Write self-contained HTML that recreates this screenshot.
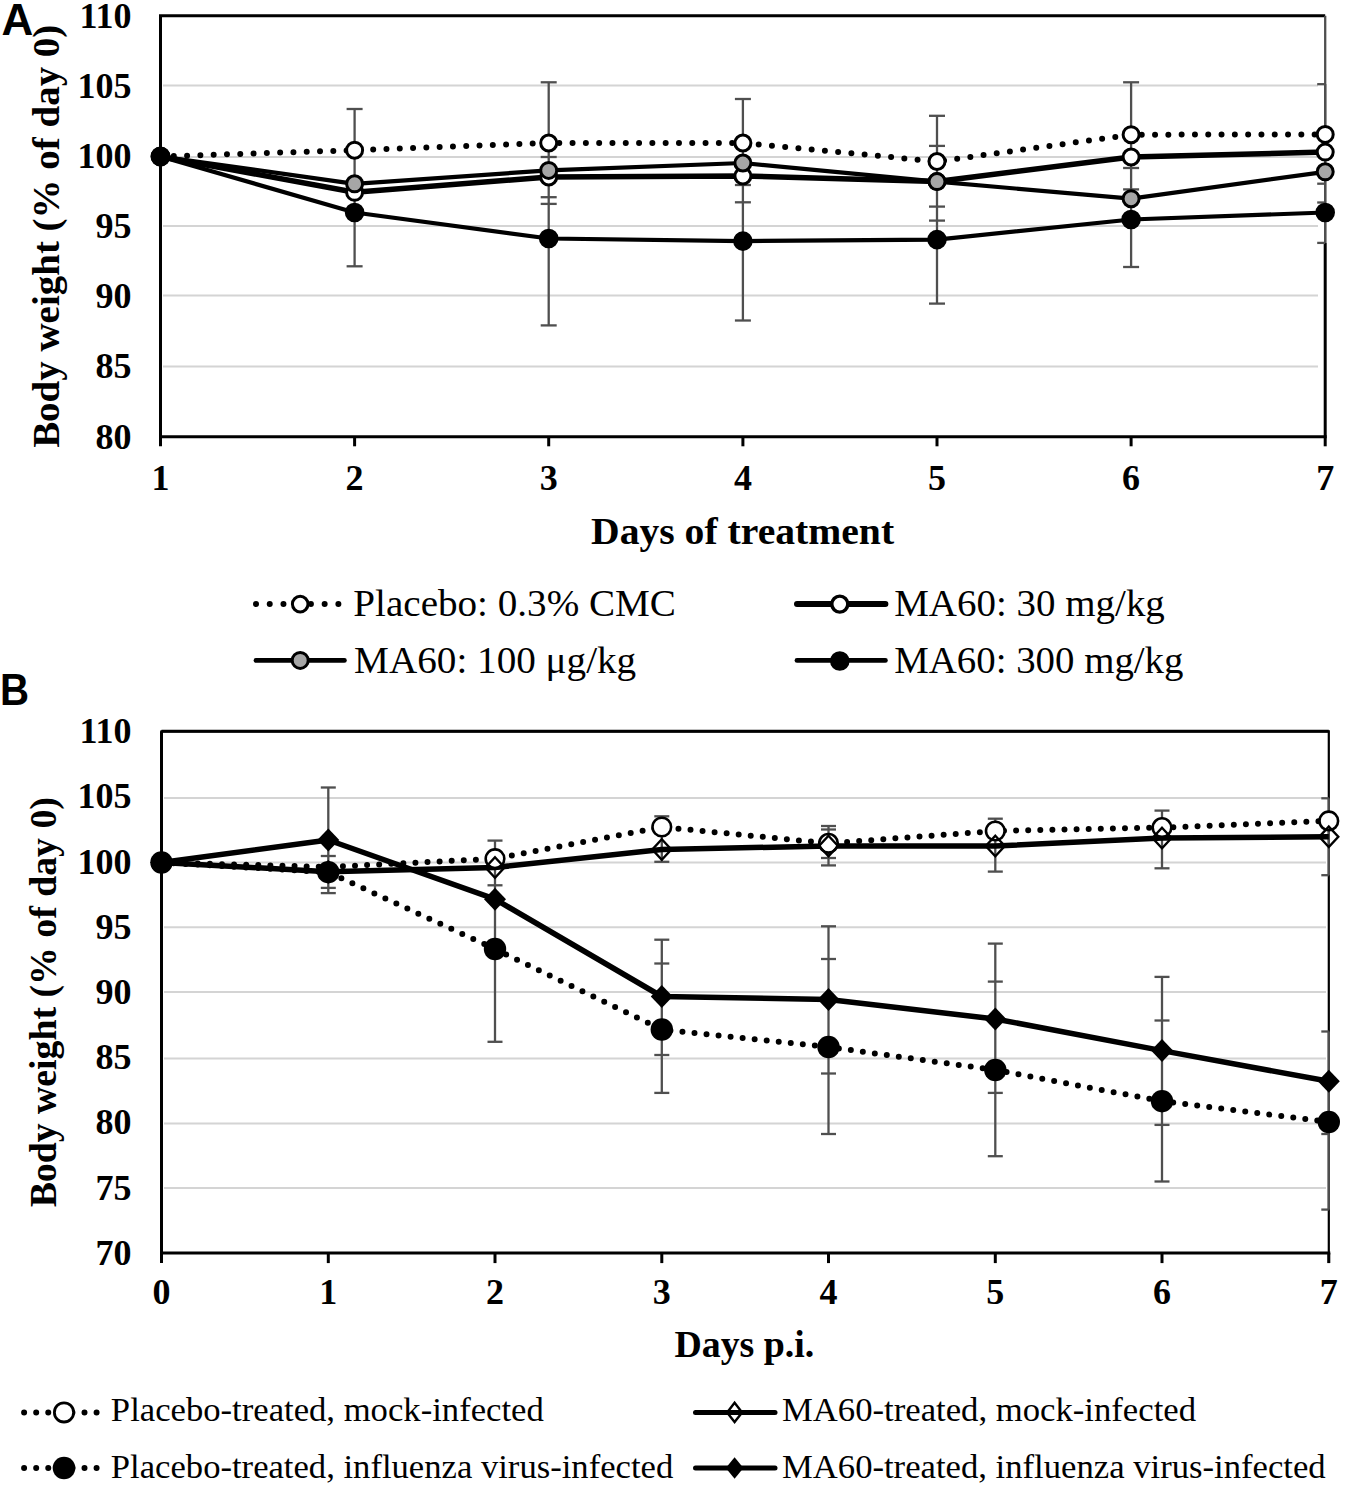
<!DOCTYPE html>
<html><head><meta charset="utf-8"><title>Body weight charts</title>
<style>html,body{margin:0;padding:0;background:#fff;}body{width:1345px;height:1488px;position:relative;overflow:hidden;font-family:"Liberation Serif",serif;}</style>
</head><body>
<svg width="1345" height="1488" viewBox="0 0 1345 1488" style="position:absolute;left:0;top:0"><line x1="163" y1="85.4" x2="1318" y2="85.4" stroke="#d4d4d4" stroke-width="2"/><line x1="163" y1="157.0" x2="1318" y2="157.0" stroke="#d4d4d4" stroke-width="2"/><line x1="163" y1="226.1" x2="1318" y2="226.1" stroke="#d4d4d4" stroke-width="2"/><line x1="163" y1="295.4" x2="1318" y2="295.4" stroke="#d4d4d4" stroke-width="2"/><line x1="163" y1="366.5" x2="1318" y2="366.5" stroke="#d4d4d4" stroke-width="2"/><path d="M160.5,446.3 L160.5,15.8 L1325.2,15.8" fill="none" stroke="#000" stroke-width="3"/><line x1="159.0" y1="436.8" x2="1326.7" y2="436.8" stroke="#000" stroke-width="3"/><line x1="354.6" y1="436.8" x2="354.6" y2="446.3" stroke="#000" stroke-width="3"/><line x1="548.7" y1="436.8" x2="548.7" y2="446.3" stroke="#000" stroke-width="3"/><line x1="742.9" y1="436.8" x2="742.9" y2="446.3" stroke="#000" stroke-width="3"/><line x1="937.0" y1="436.8" x2="937.0" y2="446.3" stroke="#000" stroke-width="3"/><line x1="1131.1" y1="436.8" x2="1131.1" y2="446.3" stroke="#000" stroke-width="3"/><line x1="1325.2" y1="436.8" x2="1325.2" y2="446.3" stroke="#000" stroke-width="3"/><line x1="1325.2" y1="15.8" x2="1325.2" y2="243" stroke="#4f4f4f" stroke-width="2.3"/><line x1="1325.2" y1="243" x2="1325.2" y2="436.8" stroke="#000" stroke-width="3"/><line x1="354.6" y1="109.0" x2="354.6" y2="266.3" stroke="#4f4f4f" stroke-width="2.3"/><line x1="346.6" y1="109.0" x2="362.6" y2="109.0" stroke="#4f4f4f" stroke-width="2.3"/><line x1="346.6" y1="266.3" x2="362.6" y2="266.3" stroke="#4f4f4f" stroke-width="2.3"/><line x1="548.7" y1="82.3" x2="548.7" y2="325.4" stroke="#4f4f4f" stroke-width="2.3"/><line x1="540.7" y1="82.3" x2="556.7" y2="82.3" stroke="#4f4f4f" stroke-width="2.3"/><line x1="540.7" y1="157.0" x2="556.7" y2="157.0" stroke="#4f4f4f" stroke-width="2.3"/><line x1="540.7" y1="197.2" x2="556.7" y2="197.2" stroke="#4f4f4f" stroke-width="2.3"/><line x1="540.7" y1="203.9" x2="556.7" y2="203.9" stroke="#4f4f4f" stroke-width="2.3"/><line x1="540.7" y1="325.4" x2="556.7" y2="325.4" stroke="#4f4f4f" stroke-width="2.3"/><line x1="742.9" y1="99.0" x2="742.9" y2="320.5" stroke="#4f4f4f" stroke-width="2.3"/><line x1="734.9" y1="99.0" x2="750.9" y2="99.0" stroke="#4f4f4f" stroke-width="2.3"/><line x1="734.9" y1="185.0" x2="750.9" y2="185.0" stroke="#4f4f4f" stroke-width="2.3"/><line x1="734.9" y1="202.3" x2="750.9" y2="202.3" stroke="#4f4f4f" stroke-width="2.3"/><line x1="734.9" y1="320.5" x2="750.9" y2="320.5" stroke="#4f4f4f" stroke-width="2.3"/><line x1="937.0" y1="115.8" x2="937.0" y2="303.6" stroke="#4f4f4f" stroke-width="2.3"/><line x1="929.0" y1="115.8" x2="945.0" y2="115.8" stroke="#4f4f4f" stroke-width="2.3"/><line x1="929.0" y1="145.9" x2="945.0" y2="145.9" stroke="#4f4f4f" stroke-width="2.3"/><line x1="929.0" y1="206.6" x2="945.0" y2="206.6" stroke="#4f4f4f" stroke-width="2.3"/><line x1="929.0" y1="220.6" x2="945.0" y2="220.6" stroke="#4f4f4f" stroke-width="2.3"/><line x1="929.0" y1="303.6" x2="945.0" y2="303.6" stroke="#4f4f4f" stroke-width="2.3"/><line x1="1131.1" y1="82.3" x2="1131.1" y2="267.0" stroke="#4f4f4f" stroke-width="2.3"/><line x1="1123.1" y1="82.3" x2="1139.1" y2="82.3" stroke="#4f4f4f" stroke-width="2.3"/><line x1="1123.1" y1="168.0" x2="1139.1" y2="168.0" stroke="#4f4f4f" stroke-width="2.3"/><line x1="1123.1" y1="189.4" x2="1139.1" y2="189.4" stroke="#4f4f4f" stroke-width="2.3"/><line x1="1123.1" y1="267.0" x2="1139.1" y2="267.0" stroke="#4f4f4f" stroke-width="2.3"/><line x1="1325.2" y1="84.0" x2="1325.2" y2="243.0" stroke="#4f4f4f" stroke-width="2.3"/><line x1="1317.2" y1="84.2" x2="1325.2" y2="84.2" stroke="#4f4f4f" stroke-width="2.3"/><line x1="1317.2" y1="183.7" x2="1325.2" y2="183.7" stroke="#4f4f4f" stroke-width="2.3"/><line x1="1317.2" y1="202.5" x2="1325.2" y2="202.5" stroke="#4f4f4f" stroke-width="2.3"/><line x1="1317.2" y1="242.9" x2="1325.2" y2="242.9" stroke="#4f4f4f" stroke-width="2.3"/><path d="M160.5,156.5 L354.6,212.5 L548.7,238.5 L742.9,241.1 L937.0,239.6 L1131.1,219.5 L1325.2,212.5" fill="none" stroke="#000" stroke-width="4.2" stroke-linejoin="round"/><path d="M160.5,156.5 L354.6,183.8 L548.7,170.4 L742.9,163.0 L937.0,181.6 L1131.1,198.7 L1325.2,171.8" fill="none" stroke="#000" stroke-width="4.2" stroke-linejoin="round"/><path d="M160.5,156.5 L354.6,192.3 L548.7,177.0 L742.9,176.0 L937.0,181.6 L1131.1,157.0 L1325.2,152.1" fill="none" stroke="#000" stroke-width="5.5" stroke-linejoin="round"/><path d="M160.5,156.5 L354.6,150.2 L548.7,143.0 L742.9,143.0 L937.0,161.5 L1131.1,134.7 L1325.2,134.4" fill="none" stroke="#000" stroke-width="6" stroke-linecap="round" stroke-dasharray="0 13.3"/><circle cx="160.5" cy="156.5" r="8.3" fill="#000" stroke="#000" stroke-width="3"/><circle cx="354.6" cy="212.5" r="8.3" fill="#000" stroke="#000" stroke-width="3"/><circle cx="548.7" cy="238.5" r="8.3" fill="#000" stroke="#000" stroke-width="3"/><circle cx="742.9" cy="241.1" r="8.3" fill="#000" stroke="#000" stroke-width="3"/><circle cx="937.0" cy="239.6" r="8.3" fill="#000" stroke="#000" stroke-width="3"/><circle cx="1131.1" cy="219.5" r="8.3" fill="#000" stroke="#000" stroke-width="3"/><circle cx="1325.2" cy="212.5" r="8.3" fill="#000" stroke="#000" stroke-width="3"/><circle cx="354.6" cy="192.3" r="8" fill="#fff" stroke="#000" stroke-width="3"/><circle cx="548.7" cy="177.0" r="8" fill="#fff" stroke="#000" stroke-width="3"/><circle cx="742.9" cy="176.0" r="8" fill="#fff" stroke="#000" stroke-width="3"/><circle cx="937.0" cy="181.6" r="8" fill="#fff" stroke="#000" stroke-width="3"/><circle cx="1131.1" cy="157.0" r="8" fill="#fff" stroke="#000" stroke-width="3"/><circle cx="1325.2" cy="152.1" r="8" fill="#fff" stroke="#000" stroke-width="3"/><circle cx="354.6" cy="183.8" r="8" fill="#a6a6a6" stroke="#000" stroke-width="3"/><circle cx="548.7" cy="170.4" r="8" fill="#a6a6a6" stroke="#000" stroke-width="3"/><circle cx="742.9" cy="163.0" r="8" fill="#a6a6a6" stroke="#000" stroke-width="3"/><circle cx="937.0" cy="181.6" r="8" fill="#a6a6a6" stroke="#000" stroke-width="3"/><circle cx="1131.1" cy="198.7" r="8" fill="#a6a6a6" stroke="#000" stroke-width="3"/><circle cx="1325.2" cy="171.8" r="8" fill="#a6a6a6" stroke="#000" stroke-width="3"/><circle cx="354.6" cy="150.2" r="8" fill="#fff" stroke="#000" stroke-width="3"/><circle cx="548.7" cy="143.0" r="8" fill="#fff" stroke="#000" stroke-width="3"/><circle cx="742.9" cy="143.0" r="8" fill="#fff" stroke="#000" stroke-width="3"/><circle cx="937.0" cy="161.5" r="8" fill="#fff" stroke="#000" stroke-width="3"/><circle cx="1131.1" cy="134.7" r="8" fill="#fff" stroke="#000" stroke-width="3"/><circle cx="1325.2" cy="134.4" r="8" fill="#fff" stroke="#000" stroke-width="3"/><circle cx="160.5" cy="156.5" r="8.5" fill="#000" stroke="#000" stroke-width="3"/><line x1="164" y1="798.0" x2="1326" y2="798.0" stroke="#d4d4d4" stroke-width="2"/><line x1="164" y1="862.6" x2="1326" y2="862.6" stroke="#d4d4d4" stroke-width="2"/><line x1="164" y1="927.3" x2="1326" y2="927.3" stroke="#d4d4d4" stroke-width="2"/><line x1="164" y1="992.0" x2="1326" y2="992.0" stroke="#d4d4d4" stroke-width="2"/><line x1="164" y1="1058.4" x2="1326" y2="1058.4" stroke="#d4d4d4" stroke-width="2"/><line x1="164" y1="1123.5" x2="1326" y2="1123.5" stroke="#d4d4d4" stroke-width="2"/><line x1="164" y1="1188.1" x2="1326" y2="1188.1" stroke="#d4d4d4" stroke-width="2"/><path d="M161.5,1263.1 L161.5,731.3 L1328.8,731.3 L1328.8,1263.1" fill="none" stroke="#000" stroke-width="2.2"/><line x1="161.5" y1="731.3" x2="1328.8" y2="731.3" stroke="#000" stroke-width="3"/><line x1="161.5" y1="731.3" x2="161.5" y2="1263.1" stroke="#000" stroke-width="3"/><line x1="160.0" y1="1253.1" x2="1330.3" y2="1253.1" stroke="#000" stroke-width="3"/><line x1="328.3" y1="1253.1" x2="328.3" y2="1263.1" stroke="#000" stroke-width="3"/><line x1="495.0" y1="1253.1" x2="495.0" y2="1263.1" stroke="#000" stroke-width="3"/><line x1="661.8" y1="1253.1" x2="661.8" y2="1263.1" stroke="#000" stroke-width="3"/><line x1="828.5" y1="1253.1" x2="828.5" y2="1263.1" stroke="#000" stroke-width="3"/><line x1="995.3" y1="1253.1" x2="995.3" y2="1263.1" stroke="#000" stroke-width="3"/><line x1="1162.0" y1="1253.1" x2="1162.0" y2="1263.1" stroke="#000" stroke-width="3"/><line x1="1328.8" y1="1253.1" x2="1328.8" y2="1263.1" stroke="#000" stroke-width="3"/><line x1="328.3" y1="787.5" x2="328.3" y2="893.1" stroke="#4f4f4f" stroke-width="2.3"/><line x1="320.8" y1="787.5" x2="335.8" y2="787.5" stroke="#4f4f4f" stroke-width="2.3"/><line x1="320.8" y1="856.0" x2="335.8" y2="856.0" stroke="#4f4f4f" stroke-width="2.3"/><line x1="320.8" y1="887.9" x2="335.8" y2="887.9" stroke="#4f4f4f" stroke-width="2.3"/><line x1="320.8" y1="893.1" x2="335.8" y2="893.1" stroke="#4f4f4f" stroke-width="2.3"/><line x1="495.0" y1="840.6" x2="495.0" y2="1041.8" stroke="#4f4f4f" stroke-width="2.3"/><line x1="487.5" y1="840.6" x2="502.5" y2="840.6" stroke="#4f4f4f" stroke-width="2.3"/><line x1="487.5" y1="885.3" x2="502.5" y2="885.3" stroke="#4f4f4f" stroke-width="2.3"/><line x1="487.5" y1="1041.8" x2="502.5" y2="1041.8" stroke="#4f4f4f" stroke-width="2.3"/><line x1="661.8" y1="816.3" x2="661.8" y2="861.8" stroke="#4f4f4f" stroke-width="2.3"/><line x1="654.3" y1="816.3" x2="669.3" y2="816.3" stroke="#4f4f4f" stroke-width="2.3"/><line x1="654.3" y1="861.8" x2="669.3" y2="861.8" stroke="#4f4f4f" stroke-width="2.3"/><line x1="661.8" y1="939.7" x2="661.8" y2="1092.9" stroke="#4f4f4f" stroke-width="2.3"/><line x1="654.3" y1="939.7" x2="669.3" y2="939.7" stroke="#4f4f4f" stroke-width="2.3"/><line x1="654.3" y1="963.5" x2="669.3" y2="963.5" stroke="#4f4f4f" stroke-width="2.3"/><line x1="654.3" y1="1055.0" x2="669.3" y2="1055.0" stroke="#4f4f4f" stroke-width="2.3"/><line x1="654.3" y1="1092.9" x2="669.3" y2="1092.9" stroke="#4f4f4f" stroke-width="2.3"/><line x1="828.5" y1="826.0" x2="828.5" y2="865.4" stroke="#4f4f4f" stroke-width="2.3"/><line x1="821.0" y1="826.0" x2="836.0" y2="826.0" stroke="#4f4f4f" stroke-width="2.3"/><line x1="821.0" y1="829.5" x2="836.0" y2="829.5" stroke="#4f4f4f" stroke-width="2.3"/><line x1="821.0" y1="858.0" x2="836.0" y2="858.0" stroke="#4f4f4f" stroke-width="2.3"/><line x1="821.0" y1="865.4" x2="836.0" y2="865.4" stroke="#4f4f4f" stroke-width="2.3"/><line x1="828.5" y1="926.3" x2="828.5" y2="1134.0" stroke="#4f4f4f" stroke-width="2.3"/><line x1="821.0" y1="926.3" x2="836.0" y2="926.3" stroke="#4f4f4f" stroke-width="2.3"/><line x1="821.0" y1="959.0" x2="836.0" y2="959.0" stroke="#4f4f4f" stroke-width="2.3"/><line x1="821.0" y1="1073.5" x2="836.0" y2="1073.5" stroke="#4f4f4f" stroke-width="2.3"/><line x1="821.0" y1="1134.0" x2="836.0" y2="1134.0" stroke="#4f4f4f" stroke-width="2.3"/><line x1="995.3" y1="818.7" x2="995.3" y2="871.6" stroke="#4f4f4f" stroke-width="2.3"/><line x1="987.8" y1="818.7" x2="1002.8" y2="818.7" stroke="#4f4f4f" stroke-width="2.3"/><line x1="987.8" y1="871.6" x2="1002.8" y2="871.6" stroke="#4f4f4f" stroke-width="2.3"/><line x1="995.3" y1="943.6" x2="995.3" y2="1156.2" stroke="#4f4f4f" stroke-width="2.3"/><line x1="987.8" y1="943.6" x2="1002.8" y2="943.6" stroke="#4f4f4f" stroke-width="2.3"/><line x1="987.8" y1="981.6" x2="1002.8" y2="981.6" stroke="#4f4f4f" stroke-width="2.3"/><line x1="987.8" y1="1092.9" x2="1002.8" y2="1092.9" stroke="#4f4f4f" stroke-width="2.3"/><line x1="987.8" y1="1156.2" x2="1002.8" y2="1156.2" stroke="#4f4f4f" stroke-width="2.3"/><line x1="1162.0" y1="810.6" x2="1162.0" y2="868.3" stroke="#4f4f4f" stroke-width="2.3"/><line x1="1154.5" y1="810.6" x2="1169.5" y2="810.6" stroke="#4f4f4f" stroke-width="2.3"/><line x1="1154.5" y1="868.3" x2="1169.5" y2="868.3" stroke="#4f4f4f" stroke-width="2.3"/><line x1="1162.0" y1="976.9" x2="1162.0" y2="1181.5" stroke="#4f4f4f" stroke-width="2.3"/><line x1="1154.5" y1="976.9" x2="1169.5" y2="976.9" stroke="#4f4f4f" stroke-width="2.3"/><line x1="1154.5" y1="1020.5" x2="1169.5" y2="1020.5" stroke="#4f4f4f" stroke-width="2.3"/><line x1="1154.5" y1="1124.9" x2="1169.5" y2="1124.9" stroke="#4f4f4f" stroke-width="2.3"/><line x1="1154.5" y1="1181.5" x2="1169.5" y2="1181.5" stroke="#4f4f4f" stroke-width="2.3"/><line x1="1328.8" y1="798.3" x2="1328.8" y2="875.2" stroke="#4f4f4f" stroke-width="2.3"/><line x1="1321.3" y1="798.3" x2="1328.8" y2="798.3" stroke="#4f4f4f" stroke-width="2.3"/><line x1="1321.3" y1="875.2" x2="1328.8" y2="875.2" stroke="#4f4f4f" stroke-width="2.3"/><line x1="1328.8" y1="1031.5" x2="1328.8" y2="1209.6" stroke="#4f4f4f" stroke-width="2.3"/><line x1="1321.3" y1="1031.5" x2="1328.8" y2="1031.5" stroke="#4f4f4f" stroke-width="2.3"/><line x1="1321.3" y1="1134.0" x2="1328.8" y2="1134.0" stroke="#4f4f4f" stroke-width="2.3"/><line x1="1321.3" y1="1209.6" x2="1328.8" y2="1209.6" stroke="#4f4f4f" stroke-width="2.3"/><path d="M161.5,862.5 L328.3,840.0 L495.0,899.2 L661.8,996.5 L828.5,999.5 L995.3,1019.0 L1162.0,1050.6 L1328.8,1081.3" fill="none" stroke="#000" stroke-width="5.5" stroke-linejoin="round"/><path d="M161.5,862.5 L328.3,871.7 L495.0,867.5 L661.8,849.5 L828.5,846.0 L995.3,846.0 L1162.0,838.0 L1328.8,836.8" fill="none" stroke="#000" stroke-width="5.5" stroke-linejoin="round"/><path d="M161.5,862.5 L328.3,872.2 L495.0,949.0 L661.8,1029.5 L828.5,1047.0 L995.3,1070.0 L1162.0,1101.2 L1328.8,1122.0" fill="none" stroke="#000" stroke-width="6" stroke-linecap="round" stroke-dasharray="0 12.1"/><path d="M161.5,862.5 L328.3,867.0 L495.0,858.7 L661.8,827.0 L828.5,843.3 L995.3,831.0 L1162.0,827.6 L1328.8,820.9" fill="none" stroke="#000" stroke-width="6" stroke-linecap="round" stroke-dasharray="0 12.1"/><circle cx="161.5" cy="862.5" r="9.3" fill="#fff" stroke="#000" stroke-width="2.6"/><circle cx="495.0" cy="858.7" r="9.3" fill="#fff" stroke="#000" stroke-width="2.6"/><circle cx="661.8" cy="827.0" r="9.3" fill="#fff" stroke="#000" stroke-width="2.6"/><circle cx="828.5" cy="843.3" r="9.3" fill="#fff" stroke="#000" stroke-width="2.6"/><circle cx="995.3" cy="831.0" r="9.3" fill="#fff" stroke="#000" stroke-width="2.6"/><circle cx="1162.0" cy="827.6" r="9.3" fill="#fff" stroke="#000" stroke-width="2.6"/><circle cx="1328.8" cy="820.9" r="9.3" fill="#fff" stroke="#000" stroke-width="2.6"/><path d="M161.5,852.3 L171.0,862.5 L161.5,872.7 L152.0,862.5 Z" fill="none" stroke="#000" stroke-width="2.4" stroke-linejoin="miter"/><path d="M328.3,861.5 L337.8,871.7 L328.3,881.9 L318.8,871.7 Z" fill="none" stroke="#000" stroke-width="2.4" stroke-linejoin="miter"/><path d="M495.0,857.3 L504.5,867.5 L495.0,877.7 L485.5,867.5 Z" fill="none" stroke="#000" stroke-width="2.4" stroke-linejoin="miter"/><path d="M661.8,839.3 L671.3,849.5 L661.8,859.7 L652.3,849.5 Z" fill="none" stroke="#000" stroke-width="2.4" stroke-linejoin="miter"/><path d="M828.5,835.8 L838.0,846.0 L828.5,856.2 L819.0,846.0 Z" fill="none" stroke="#000" stroke-width="2.4" stroke-linejoin="miter"/><path d="M995.3,835.8 L1004.8,846.0 L995.3,856.2 L985.8,846.0 Z" fill="none" stroke="#000" stroke-width="2.4" stroke-linejoin="miter"/><path d="M1162.0,827.8 L1171.5,838.0 L1162.0,848.2 L1152.5,838.0 Z" fill="none" stroke="#000" stroke-width="2.4" stroke-linejoin="miter"/><path d="M1328.8,826.6 L1338.3,836.8 L1328.8,847.0 L1319.3,836.8 Z" fill="none" stroke="#000" stroke-width="2.4" stroke-linejoin="miter"/><circle cx="161.5" cy="862.5" r="11.2" fill="#000" stroke="#000" stroke-width="0"/><circle cx="328.3" cy="872.2" r="11.2" fill="#000" stroke="#000" stroke-width="0"/><circle cx="495.0" cy="949.0" r="11.2" fill="#000" stroke="#000" stroke-width="0"/><circle cx="661.8" cy="1029.5" r="11.2" fill="#000" stroke="#000" stroke-width="0"/><circle cx="828.5" cy="1047.0" r="11.2" fill="#000" stroke="#000" stroke-width="0"/><circle cx="995.3" cy="1070.0" r="11.2" fill="#000" stroke="#000" stroke-width="0"/><circle cx="1162.0" cy="1101.2" r="11.2" fill="#000" stroke="#000" stroke-width="0"/><circle cx="1328.8" cy="1122.0" r="11.2" fill="#000" stroke="#000" stroke-width="0"/><path d="M161.5,851.0 L172.5,862.5 L161.5,874.0 L150.5,862.5 Z" fill="#000" stroke="#000" stroke-width="0" stroke-linejoin="miter"/><path d="M328.3,828.5 L339.3,840.0 L328.3,851.5 L317.3,840.0 Z" fill="#000" stroke="#000" stroke-width="0" stroke-linejoin="miter"/><path d="M495.0,887.7 L506.0,899.2 L495.0,910.7 L484.0,899.2 Z" fill="#000" stroke="#000" stroke-width="0" stroke-linejoin="miter"/><path d="M661.8,985.0 L672.8,996.5 L661.8,1008.0 L650.8,996.5 Z" fill="#000" stroke="#000" stroke-width="0" stroke-linejoin="miter"/><path d="M828.5,988.0 L839.5,999.5 L828.5,1011.0 L817.5,999.5 Z" fill="#000" stroke="#000" stroke-width="0" stroke-linejoin="miter"/><path d="M995.3,1007.5 L1006.3,1019.0 L995.3,1030.5 L984.3,1019.0 Z" fill="#000" stroke="#000" stroke-width="0" stroke-linejoin="miter"/><path d="M1162.0,1039.1 L1173.0,1050.6 L1162.0,1062.1 L1151.0,1050.6 Z" fill="#000" stroke="#000" stroke-width="0" stroke-linejoin="miter"/><path d="M1328.8,1069.8 L1339.8,1081.3 L1328.8,1092.8 L1317.8,1081.3 Z" fill="#000" stroke="#000" stroke-width="0" stroke-linejoin="miter"/><text x="131.5" y="27.6" font-family="Liberation Serif" font-size="36" font-weight="bold" text-anchor="end" >110</text><text x="131.5" y="97.8" font-family="Liberation Serif" font-size="36" font-weight="bold" text-anchor="end" >105</text><text x="131.5" y="167.9" font-family="Liberation Serif" font-size="36" font-weight="bold" text-anchor="end" >100</text><text x="131.5" y="238.1" font-family="Liberation Serif" font-size="36" font-weight="bold" text-anchor="end" >95</text><text x="131.5" y="308.3" font-family="Liberation Serif" font-size="36" font-weight="bold" text-anchor="end" >90</text><text x="131.5" y="378.4" font-family="Liberation Serif" font-size="36" font-weight="bold" text-anchor="end" >85</text><text x="131.5" y="448.6" font-family="Liberation Serif" font-size="36" font-weight="bold" text-anchor="end" >80</text><text x="160.5" y="490.2" font-family="Liberation Serif" font-size="36" font-weight="bold" text-anchor="middle" >1</text><text x="354.6" y="490.2" font-family="Liberation Serif" font-size="36" font-weight="bold" text-anchor="middle" >2</text><text x="548.7" y="490.2" font-family="Liberation Serif" font-size="36" font-weight="bold" text-anchor="middle" >3</text><text x="742.9" y="490.2" font-family="Liberation Serif" font-size="36" font-weight="bold" text-anchor="middle" >4</text><text x="937.0" y="490.2" font-family="Liberation Serif" font-size="36" font-weight="bold" text-anchor="middle" >5</text><text x="1131.1" y="490.2" font-family="Liberation Serif" font-size="36" font-weight="bold" text-anchor="middle" >6</text><text x="1325.2" y="490.2" font-family="Liberation Serif" font-size="36" font-weight="bold" text-anchor="middle" >7</text><text x="591.01" y="543.8" font-family="Liberation Serif" font-size="38.5" font-weight="bold" textLength="303.13" lengthAdjust="spacingAndGlyphs">Days of treatment</text><g transform="translate(59.3,0) rotate(-90)"><text x="-447.88" y="0.0" font-family="Liberation Serif" font-size="38.5" font-weight="bold" textLength="423.19" lengthAdjust="spacingAndGlyphs">Body weight (% of day 0)</text></g><text x="131.5" y="743.1" font-family="Liberation Serif" font-size="36" font-weight="bold" text-anchor="end" >110</text><text x="131.5" y="808.3" font-family="Liberation Serif" font-size="36" font-weight="bold" text-anchor="end" >105</text><text x="131.5" y="873.5" font-family="Liberation Serif" font-size="36" font-weight="bold" text-anchor="end" >100</text><text x="131.5" y="938.8" font-family="Liberation Serif" font-size="36" font-weight="bold" text-anchor="end" >95</text><text x="131.5" y="1004.0" font-family="Liberation Serif" font-size="36" font-weight="bold" text-anchor="end" >90</text><text x="131.5" y="1069.2" font-family="Liberation Serif" font-size="36" font-weight="bold" text-anchor="end" >85</text><text x="131.5" y="1134.4" font-family="Liberation Serif" font-size="36" font-weight="bold" text-anchor="end" >80</text><text x="131.5" y="1199.7" font-family="Liberation Serif" font-size="36" font-weight="bold" text-anchor="end" >75</text><text x="131.5" y="1264.9" font-family="Liberation Serif" font-size="36" font-weight="bold" text-anchor="end" >70</text><text x="161.5" y="1304.4" font-family="Liberation Serif" font-size="36" font-weight="bold" text-anchor="middle" >0</text><text x="328.3" y="1304.4" font-family="Liberation Serif" font-size="36" font-weight="bold" text-anchor="middle" >1</text><text x="495.0" y="1304.4" font-family="Liberation Serif" font-size="36" font-weight="bold" text-anchor="middle" >2</text><text x="661.8" y="1304.4" font-family="Liberation Serif" font-size="36" font-weight="bold" text-anchor="middle" >3</text><text x="828.5" y="1304.4" font-family="Liberation Serif" font-size="36" font-weight="bold" text-anchor="middle" >4</text><text x="995.3" y="1304.4" font-family="Liberation Serif" font-size="36" font-weight="bold" text-anchor="middle" >5</text><text x="1162.0" y="1304.4" font-family="Liberation Serif" font-size="36" font-weight="bold" text-anchor="middle" >6</text><text x="1328.8" y="1304.4" font-family="Liberation Serif" font-size="36" font-weight="bold" text-anchor="middle" >7</text><text x="674.44" y="1357.0" font-family="Liberation Serif" font-size="38.5" font-weight="bold" textLength="139.87" lengthAdjust="spacingAndGlyphs">Days p.i.</text><g transform="translate(56.3,0) rotate(-90)"><text x="-1207.36" y="0.0" font-family="Liberation Serif" font-size="38.5" font-weight="bold" textLength="410.22" lengthAdjust="spacingAndGlyphs">Body weight (% of day 0)</text></g><text x="1.6" y="34.6" font-family="Liberation Sans" font-size="44" font-weight="bold" text-anchor="start" >A</text><g transform="translate(2.8,0) scale(0.915,1)"><text x="-3.1" y="704.8" font-family="Liberation Sans" font-size="44" font-weight="bold" text-anchor="start" >B</text></g><path d="M256.0,604.1 L338.9,604.1" stroke="#000" stroke-width="6" stroke-linecap="round" stroke-dasharray="0 13.73" fill="none"/><circle cx="300.2" cy="604.1" r="7.8" fill="#fff" stroke="#000" stroke-width="3"/><line x1="256" y1="660.4" x2="344.4" y2="660.4" stroke="#000" stroke-width="4.8" stroke-linecap="round"/><circle cx="300.2" cy="660.4" r="8" fill="#a6a6a6" stroke="#000" stroke-width="3"/><line x1="797" y1="604.1" x2="885.4" y2="604.1" stroke="#000" stroke-width="6" stroke-linecap="round"/><circle cx="839.8" cy="604.1" r="8" fill="#fff" stroke="#000" stroke-width="3.4"/><line x1="797" y1="660.4" x2="885.4" y2="660.4" stroke="#000" stroke-width="4.8" stroke-linecap="round"/><circle cx="839.8" cy="661.0" r="8.3" fill="#000" stroke="#000" stroke-width="3"/><text x="353.33" y="616.2" font-family="Liberation Serif" font-size="38.5" font-weight="normal" textLength="322.60" lengthAdjust="spacingAndGlyphs">Placebo: 0.3% CMC</text><text x="354.13" y="673.0" font-family="Liberation Serif" font-size="38.5" font-weight="normal" textLength="282.08" lengthAdjust="spacingAndGlyphs">MA60: 100 μg/kg</text><text x="894.23" y="616.0" font-family="Liberation Serif" font-size="38.5" font-weight="normal" textLength="270.65" lengthAdjust="spacingAndGlyphs">MA60: 30 mg/kg</text><text x="894.23" y="673.0" font-family="Liberation Serif" font-size="38.5" font-weight="normal" textLength="289.24" lengthAdjust="spacingAndGlyphs">MA60: 300 mg/kg</text><path d="M24.1,1412.4 L96.9,1412.4" stroke="#000" stroke-width="6" stroke-linecap="round" stroke-dasharray="0 12.08" fill="none"/><circle cx="64.0" cy="1412.4" r="9.6" fill="#fff" stroke="#000" stroke-width="2.8"/><path d="M24.1,1468.0 L96.9,1468.0" stroke="#000" stroke-width="6" stroke-linecap="round" stroke-dasharray="0 12.08" fill="none"/><circle cx="64.0" cy="1468.0" r="11.3" fill="#000" stroke="#000" stroke-width="0"/><line x1="695.5" y1="1412.4" x2="775" y2="1412.4" stroke="#000" stroke-width="5" stroke-linecap="round"/><path d="M734.6,1402.8 L742.1,1412.4 L734.6,1422.0 L727.1,1412.4 Z" fill="none" stroke="#000" stroke-width="2.4" stroke-linejoin="miter"/><line x1="695.5" y1="1468.0" x2="775" y2="1468.0" stroke="#000" stroke-width="5" stroke-linecap="round"/><path d="M734.6,1457.2 L743.4,1468.0 L734.6,1478.8 L725.8,1468.0 Z" fill="#000" stroke="#000" stroke-width="0" stroke-linejoin="miter"/><text x="110.86" y="1421.2" font-family="Liberation Serif" font-size="33.5" font-weight="normal" textLength="432.92" lengthAdjust="spacingAndGlyphs">Placebo-treated, mock-infected</text><text x="110.86" y="1478.3" font-family="Liberation Serif" font-size="33.5" font-weight="normal" textLength="562.36" lengthAdjust="spacingAndGlyphs">Placebo-treated, influenza virus-infected</text><text x="781.96" y="1421.2" font-family="Liberation Serif" font-size="33.5" font-weight="normal" textLength="414.07" lengthAdjust="spacingAndGlyphs">MA60-treated, mock-infected</text><text x="781.96" y="1478.3" font-family="Liberation Serif" font-size="33.5" font-weight="normal" textLength="543.72" lengthAdjust="spacingAndGlyphs">MA60-treated, influenza virus-infected</text></svg>
</body></html>
